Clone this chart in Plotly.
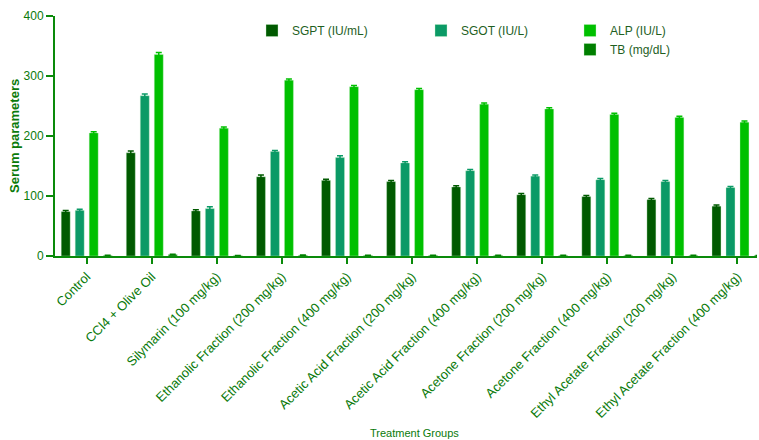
import plotly.graph_objects as go

categories = ["Control", "CCl4 + Olive Oil", "Silymarin (100 mg/kg)",
              "Ethanolic Fraction (200 mg/kg)", "Ethanolic Fraction (400 mg/kg)",
              "Acetic Acid Fraction (200 mg/kg)", "Acetic Acid Fraction (400 mg/kg)",
              "Acetone Fraction (200 mg/kg)", "Acetone Fraction (400 mg/kg)",
              "Ethyl Acetate Fraction (200 mg/kg)", "Ethyl Acetate Fraction (400 mg/kg)"]
sgpt = [74, 172, 75, 132, 126, 124, 115, 102, 99, 94, 83]
sgot = [76, 267, 79, 174, 164, 155, 142, 133, 127, 124, 114]
alp = [205, 336, 213, 293, 282, 277, 253, 245, 236, 231, 223]
tb = [0.8, 2.5, 0.6, 1.2, 1.0, 1.1, 1.0, 0.9, 0.8, 0.8, 0.7]
sgpt_err = [2, 3, 2, 3, 2, 2, 2, 2, 2, 2, 2]
sgot_err = [2, 3, 3, 2, 3, 2, 2, 2, 2, 2, 2]
alp_err = [2, 3, 2, 2, 2, 2, 2, 2, 2, 2, 2]
tb_err = [0.3, 0.5, 0.3, 0.3, 0.3, 0.3, 0.3, 0.3, 0.3, 0.3, 0.3]

series = [
    ("SGPT (IU/mL)", sgpt, sgpt_err, "#005a00", "legend"),
    ("SGOT (IU/L)", sgot, sgot_err, "#0b9a66", "legend2"),
    ("ALP (IU/L)", alp, alp_err, "#00c000", "legend3"),
    ("TB (mg/dL)", tb, tb_err, "#007f00", "legend3"),
]

FONT = "Liberation Sans, Arial, sans-serif"
AXIS = "#0a8a0a"
TXT = "#0a7a0a"

L, R, T, B = 55, 2, 16, 184
PW = 759 - L - R
PH = 440 - T - B


def px_x(p):
    return (p - L) / PW


def px_y(p):
    return 1 - (p - T) / PH


fig = go.Figure()
for name, vals, err, col, lg in series:
    fig.add_trace(go.Bar(
        x=list(range(len(categories))), y=vals, name=name, legend=lg,
        marker=dict(color=col, line=dict(color="rgba(200,240,200,0.6)", width=0.6)),
        error_y=dict(type="data", array=err, visible=True, color=col, thickness=1.5, width=3),
    ))

leg_common = dict(xanchor="left", yanchor="top", font=dict(size=12, color="#1f5f1f"),
                  bgcolor="rgba(0,0,0,0)", itemwidth=30, tracegroupgap=0, traceorder="normal")

fig.update_layout(
    width=759, height=440,
    margin=dict(l=L, r=R, t=T, b=B, autoexpand=False),
    paper_bgcolor="white", plot_bgcolor="white",
    barmode="group", bargap=0.14, bargroupgap=0.36,
    font=dict(family=FONT, color=TXT, size=12),
    showlegend=True,
    legend=dict(x=px_x(252), y=px_y(16), **leg_common),
    legend2=dict(x=px_x(421), y=px_y(16), **leg_common),
    legend3=dict(x=px_x(570), y=px_y(16), **leg_common),
)

fig.update_xaxes(
    range=[-0.487, 10.30], tickmode="array", tickvals=list(range(len(categories))),
    ticktext=categories, tickangle=-45, showgrid=False, zeroline=False, automargin=False,
    showline=True, linecolor=AXIS, linewidth=2, ticks="outside", ticklen=6,
    tickwidth=2, tickcolor=AXIS, tickfont=dict(size=13, color=TXT, family=FONT),
)
fig.update_yaxes(
    range=[0, 400], tickvals=[0, 100, 200, 300, 400], showgrid=False, zeroline=False,
    automargin=False,
    showline=True, linecolor=AXIS, linewidth=2, ticks="outside", ticklen=7,
    tickwidth=2, tickcolor=AXIS, tickfont=dict(size=12, color=TXT, family=FONT),
)
fig.add_annotation(text="<b>Serum parameters</b>", xref="paper", yref="paper",
                   x=px_x(14), y=px_y(136), textangle=-90, showarrow=False,
                   font=dict(size=13, color=TXT, family=FONT), xanchor="center", yanchor="middle")
fig.add_annotation(text="Treatment Groups", xref="paper", yref="paper",
                   x=px_x(414), y=px_y(433), showarrow=False,
                   font=dict(size=11, color=TXT, family=FONT), yanchor="middle", xanchor="center")

fig.write_html("out.html")
